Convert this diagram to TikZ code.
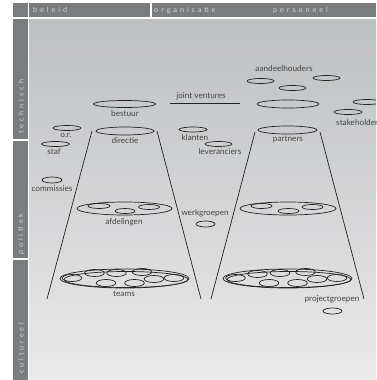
\documentclass[tikz,border=0pt]{standalone}
\usepackage{fontspec}
\setmainfont{Lato}
\newfontfamily\hdrfont[LetterSpace=40]{Lato}
\definecolor{bar}{RGB}{123,124,126}
\definecolor{bgtop}{RGB}{190,191,193}
\definecolor{bgbot}{RGB}{234,234,234}
\definecolor{ink}{RGB}{35,35,35}
\definecolor{txt}{RGB}{68,68,68}
\definecolor{hdrtxt}{RGB}{212,212,212}
\begin{document}
\begin{tikzpicture}[x=1pt,y=-1pt,
  lab/.style={font=\fontsize{8.2}{9}\selectfont, text=txt, inner sep=0pt},
  ring/.style={draw=ink, line width=0.7pt},
  hdr/.style={font=\hdrfont\fontsize{7.3}{8}\selectfont, text=hdrtxt, inner sep=0pt, anchor=west},
  side/.style={font=\hdrfont\fontsize{7.3}{8}\selectfont, text=hdrtxt, inner sep=0pt, anchor=west, rotate=90},
  coneline/.style={draw=ink, line width=0.7pt},
  jv/.style={draw=ink, line width=0.7pt}
]
\useasboundingbox (0,0) rectangle (376,380);
\clip (0,0) rectangle (376,380);
\fill[white] (0,0) rectangle (376,380);
% header
\fill[bar] (13,3) rectangle (28,17);
\fill[bar] (29,3) rectangle (150,17);
\fill[bar] (152,3) rectangle (376,17);
\node[hdr] (hb) at (33,10) {beleid};
\node[hdr] (ho) at (154,10) {organisatie};
\node[hdr] (hp) at (273,10) {personeel};
% background
\shade[top color=bgtop, bottom color=bgbot] (29,19) rectangle (376,380);
% side column
\fill[bar] (13,19) rectangle (28,138.5);
\fill[bar] (13,140.5) rectangle (28,258);
\fill[bar] (13,260) rectangle (28,380);
\node[side] (st) at (21,134) {technisch};
\node[side] (sp) at (21,255) {politiek};
\node[side] (sc) at (21,374) {cultureel};

% left cone
\coordinate (lctl) at (92,131);
\coordinate (lcbl) at (47,299);
\coordinate (lctr) at (157,131);
\coordinate (lcbr) at (201,299);
\draw[coneline] (lctl) -- (lcbl);
\draw[coneline] (lctr) -- (lcbr);
% right cone
\coordinate (rctl) at (255,132);
\coordinate (rcbl) at (211,299);
\coordinate (rctr) at (320,132);
\coordinate (rcbr) at (364,299);
\draw[coneline] (rctl) -- (rcbl);
\draw[coneline] (rctr) -- (rcbr);

% left column items
\draw[ring] (124.5,104) ellipse [x radius=31pt, y radius=3.5pt];
\node[lab] (bestuur) at (125,114) {bestuur};
\draw[ring] (125,131) ellipse [x radius=29pt, y radius=4pt];
\node[lab] (directie) at (125,141) {directie};
\draw[ring] (67,128) ellipse [x radius=14pt, y radius=2.5pt];
\node[lab] (or) at (66,135.5) {o.r.};
\draw[ring] (55.5,144) ellipse [x radius=14pt, y radius=2.5pt];
\node[lab] (staf) at (54,152) {staf};
\draw[ring] (52,180) ellipse [x radius=10pt, y radius=3pt];
\node[lab] (comm) at (52,189) {commissies};

% afdelingen
\draw[ring] (124.5,208.5) ellipse [x radius=47.5pt, y radius=6.5pt];
\draw[ring] (99,206) ellipse [x radius=11pt, y radius=2.5pt];
\draw[ring] (125,211) ellipse [x radius=10pt, y radius=2.5pt];
\draw[ring] (149,207) ellipse [x radius=10.5pt, y radius=2.5pt];
\node[lab] (afd) at (124,222) {afdelingen};

% teams left
\draw[ring] (124.5,278.5) ellipse [x radius=64.5pt, y radius=9.5pt];
\draw[ring] (126,279.5) ellipse [x radius=62pt, y radius=8pt];
\foreach \dx/\dy in {-52.5/278,-30/273,-8/273,17.5/272,-18.5/283,10/283,29.5/279,49.5/278}
  \draw[ring] (124.5+\dx,\dy) ellipse [x radius=9.8pt, y radius=3.5pt];
\node[lab] (teams) at (124,294) {teams};

% middle items
\node[lab] (jvtext) at (201,96) {joint ventures};
\coordinate (jva) at (170,103);
\coordinate (jvb) at (240,103);
\draw[jv] (jva) -- (jvb);
\draw[ring] (193,129.5) ellipse [x radius=14pt, y radius=2.5pt];
\node[lab] (klanten) at (195,138) {klanten};
\draw[ring] (218.5,144) ellipse [x radius=13.5pt, y radius=2.5pt];
\node[lab] (lev) at (220,152) {leveranciers};
\node[lab] (werk) at (205,213) {werkgroepen};
\draw[ring] (205.5,224) ellipse [x radius=9.5pt, y radius=3pt];

% right column items
\node[lab] (aand) at (284,69) {aandeelhouders};
\draw[ring] (260.5,81) ellipse [x radius=13.5pt, y radius=2.5pt];
\draw[ring] (326.5,78) ellipse [x radius=13.5pt, y radius=2.5pt];
\draw[ring] (292.5,88) ellipse [x radius=13.5pt, y radius=2.5pt];
\draw[ring] (288,104) ellipse [x radius=31pt, y radius=4pt];
\draw[ring] (367,102) ellipse [x radius=14pt, y radius=2.5pt];
\draw[ring] (348,112) ellipse [x radius=14pt, y radius=2.5pt];
\node[lab, anchor=west] (stake) at (336,123) {stakeholders};
\draw[ring] (287.5,130) ellipse [x radius=29.5pt, y radius=4pt];
\node[lab] (partners) at (288,139) {partners};

% right afdelingen
\draw[ring] (288,208.5) ellipse [x radius=48pt, y radius=6.5pt];
\draw[ring] (261.5,206) ellipse [x radius=10.5pt, y radius=2.5pt];
\draw[ring] (288.5,211) ellipse [x radius=10.5pt, y radius=2.5pt];
\draw[ring] (312.5,207) ellipse [x radius=10.5pt, y radius=2.5pt];

% teams right
\draw[ring] (287.5,278.5) ellipse [x radius=64.5pt, y radius=9.5pt];
\draw[ring] (289,279.5) ellipse [x radius=62pt, y radius=8pt];
\foreach \dx/\dy in {-52/278,-30/274,-7.5/273,18/272,-18.5/283,10/283,29.5/279,49.5/278}
  \draw[ring] (287.5+\dx,\dy) ellipse [x radius=9.8pt, y radius=3.5pt];
\node[lab] (pg) at (332,299) {projectgroepen};
\draw[ring] (332.5,311) ellipse [x radius=9.5pt, y radius=3pt];
\end{tikzpicture}
\end{document}
